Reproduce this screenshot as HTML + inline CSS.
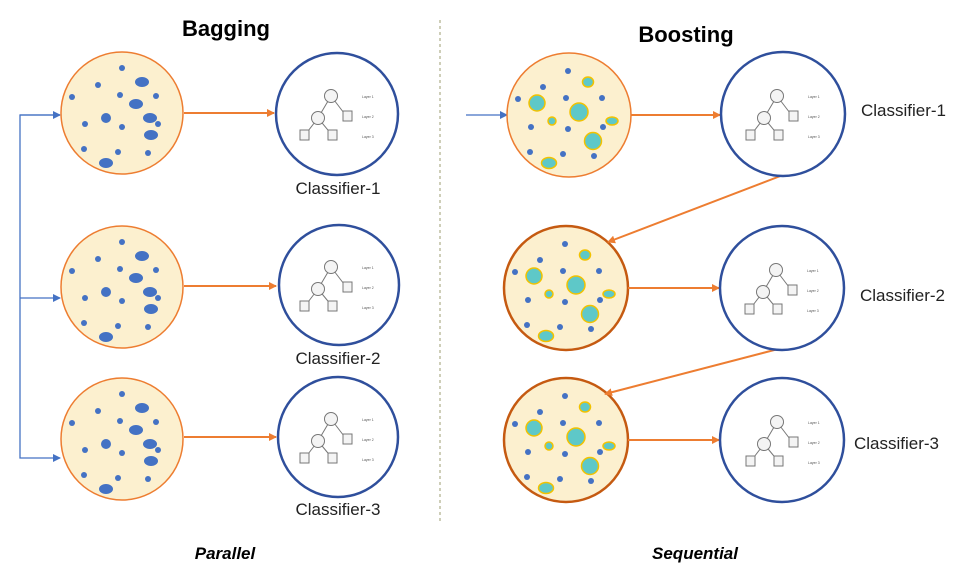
<!DOCTYPE html>
<html><head><meta charset="utf-8"><style>
html,body{margin:0;padding:0;background:#fff;}
svg{display:block;}
text{font-family:"Liberation Sans",sans-serif;}
</style></head><body>
<svg width="966" height="584" viewBox="0 0 966 584">
<defs>
<marker id="ao" markerWidth="8" markerHeight="8" refX="7" refY="4" orient="auto" markerUnits="userSpaceOnUse"><path d="M0,0 L8,4 L0,8 z" fill="#ed7d31"/></marker>
<marker id="ab" markerWidth="8" markerHeight="8" refX="7" refY="4" orient="auto" markerUnits="userSpaceOnUse"><path d="M0,0 L8,4 L0,8 z" fill="#4472c4"/></marker>
<g id="bagdots" fill="#4472c4">
<circle cx="0" cy="-45" r="3"/><circle cx="-24" cy="-28" r="3"/><ellipse cx="20" cy="-31" rx="7" ry="5"/>
<circle cx="-50" cy="-16" r="3"/><circle cx="-2" cy="-18" r="3"/><circle cx="34" cy="-17" r="3"/>
<ellipse cx="14" cy="-9" rx="7" ry="5"/><ellipse cx="-16" cy="5" rx="5" ry="5"/><ellipse cx="28" cy="5" rx="7" ry="5"/>
<circle cx="36" cy="11" r="3"/><circle cx="-37" cy="11" r="3"/><circle cx="0" cy="14" r="3"/>
<ellipse cx="29" cy="22" rx="7" ry="5"/><circle cx="-38" cy="36" r="3"/><circle cx="-4" cy="39" r="3"/>
<circle cx="26" cy="40" r="3"/><ellipse cx="-16" cy="50" rx="7" ry="5"/>
</g>
<g id="boostdots">
<g fill="#4472c4">
<circle cx="-1" cy="-44" r="3"/><circle cx="-26" cy="-28" r="3"/><circle cx="-51" cy="-16" r="3"/>
<circle cx="-3" cy="-17" r="3"/><circle cx="33" cy="-17" r="3"/><circle cx="-38" cy="12" r="3"/>
<circle cx="-1" cy="14" r="3"/><circle cx="34" cy="12" r="3"/><circle cx="-39" cy="37" r="3"/>
<circle cx="-6" cy="39" r="3"/><circle cx="25" cy="41" r="3"/>
</g>
<g fill="#5ec8c8" stroke="#f2c200" stroke-width="1.5">
<ellipse cx="19" cy="-33" rx="5.5" ry="5"/><circle cx="-32" cy="-12" r="8"/><circle cx="10" cy="-3" r="9"/>
<circle cx="-17" cy="6" r="4"/><ellipse cx="43" cy="6" rx="6" ry="4"/><circle cx="24" cy="26" r="8.5"/>
<ellipse cx="-20" cy="48" rx="7.5" ry="5.5"/>
</g>
</g>
<g id="tree" stroke="#777" fill="#f4f4f4" stroke-width="1">
<line x1="-8" y1="-19" x2="-21" y2="3"/><line x1="-8" y1="-19" x2="8" y2="2"/>
<line x1="-21" y1="3" x2="-34" y2="20"/><line x1="-21" y1="3" x2="-7" y2="20"/>
<circle cx="-8" cy="-19" r="6.5"/><circle cx="-21" cy="3" r="6.5"/>
<rect x="4" y="-4" width="9" height="10"/><rect x="-39" y="15" width="9" height="10"/><rect x="-11" y="15" width="9" height="10"/>
<g fill="#555" stroke="none" font-size="3.5"><text x="23" y="-17">Layer 1</text><text x="23" y="3">Layer 2</text><text x="23" y="23">Layer 3</text></g>
</g>
</defs>

<text x="226" y="36" font-size="22" font-weight="bold" text-anchor="middle">Bagging</text>
<text x="686" y="42" font-size="22" font-weight="bold" text-anchor="middle">Boosting</text>
<line x1="440" y1="20" x2="440" y2="522" stroke="#9c9c70" stroke-width="1" stroke-dasharray="3,3"/>

<!-- Bagging -->
<polyline points="60,115 20,115 20,458 60,458" fill="none" stroke="#4472c4" stroke-width="1.3" marker-end="url(#ab)"/>
<line x1="20" y1="115" x2="60" y2="115" stroke="#4472c4" stroke-width="1.3" marker-end="url(#ab)"/>
<line x1="20" y1="298" x2="60" y2="298" stroke="#4472c4" stroke-width="1.3" marker-end="url(#ab)"/>
<g stroke="#ed7d31" stroke-width="1.5" fill="#fcf0cf">
<circle cx="122" cy="113" r="61"/><circle cx="122" cy="287" r="61"/><circle cx="122" cy="439" r="61"/>
</g>
<use href="#bagdots" x="122" y="113"/><use href="#bagdots" x="122" y="287"/><use href="#bagdots" x="122" y="439"/>
<g stroke="#ed7d31" stroke-width="2" marker-end="url(#ao)">
<line x1="184" y1="113" x2="274" y2="113"/><line x1="184" y1="286" x2="276" y2="286"/><line x1="184" y1="437" x2="276" y2="437"/>
</g>
<g stroke="#2f4f9c" stroke-width="2.5" fill="#fff">
<circle cx="337" cy="114" r="61"/><circle cx="339" cy="285" r="60"/><circle cx="338" cy="437" r="60"/>
</g>
<use href="#tree" x="339" y="115"/><use href="#tree" x="339" y="286"/><use href="#tree" x="339" y="438"/>
<g font-size="17" fill="#222" text-anchor="middle">
<text x="338" y="194">Classifier-1</text><text x="338" y="364">Classifier-2</text><text x="338" y="515">Classifier-3</text>
</g>

<!-- Boosting -->
<line x1="466" y1="115" x2="507" y2="115" stroke="#4472c4" stroke-width="1.3" marker-end="url(#ab)"/>
<circle cx="569" cy="115" r="62" stroke="#ed7d31" stroke-width="1.5" fill="#fcf0cf"/>
<circle cx="566" cy="288" r="62" stroke="#c55a11" stroke-width="2.5" fill="#fcf0cf"/>
<circle cx="566" cy="440" r="62" stroke="#c55a11" stroke-width="2.5" fill="#fcf0cf"/>
<use href="#boostdots" x="569" y="115"/><use href="#boostdots" x="566" y="288"/><use href="#boostdots" x="566" y="440"/>
<g stroke="#ed7d31" stroke-width="2" marker-end="url(#ao)">
<line x1="631" y1="115" x2="720" y2="115"/><line x1="628" y1="288" x2="719" y2="288"/><line x1="628" y1="440" x2="719" y2="440"/>
<line x1="783" y1="175" x2="608" y2="242"/><line x1="782" y1="348" x2="605" y2="394"/>
</g>
<g stroke="#2f4f9c" stroke-width="2.5" fill="#fff">
<circle cx="783" cy="114" r="62"/><circle cx="782" cy="288" r="62"/><circle cx="782" cy="440" r="62"/>
</g>
<use href="#tree" x="785" y="115"/><use href="#tree" x="784" y="289"/><use href="#tree" x="785" y="441"/>
<g font-size="17" fill="#222">
<text x="861" y="116">Classifier-1</text><text x="860" y="301">Classifier-2</text><text x="854" y="449">Classifier-3</text>
</g>

<text x="225" y="559" font-size="17" font-weight="bold" font-style="italic" text-anchor="middle">Parallel</text>
<text x="695" y="559" font-size="17" font-weight="bold" font-style="italic" text-anchor="middle">Sequential</text>
</svg>
</body></html>
